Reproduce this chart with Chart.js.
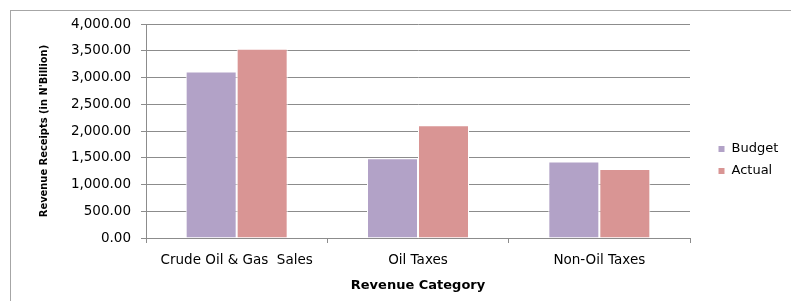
<!DOCTYPE html>
<html>
<head>
<meta charset="utf-8">
<script src="https://cdn.jsdelivr.net/npm/chart.js@4/dist/chart.umd.min.js"></script>
<style>
html,body{margin:0;padding:0;background:#fff;}
canvas{display:block;}
</style>
</head>
<body>
<canvas id="c" width="791" height="301"></canvas>
<script>
const categories = ["Crude Oil & Gas  Sales", "Oil Taxes", "Non-Oil Taxes"];
const budgetValues = [3114, 1490, 1432];
const actualValues = [3538, 2108, 1290];
const seriesNames = ["Budget", "Actual"];
const yTitle = "Revenue Receipts (in N'Billion)";
const xTitle = "Revenue Category";

const frame = {
  id: 'frame',
  beforeDraw(chart) {
    const ctx = chart.ctx;
    ctx.save();
    ctx.fillStyle = '#ffffff';
    ctx.fillRect(0, 0, chart.width, chart.height);
    ctx.strokeStyle = '#a6a6a6';
    ctx.lineWidth = 1;
    ctx.strokeRect(10.5, 10.5, chart.width + 20, chart.height + 20);
    ctx.restore();
  }
};

const legendTweak = {
  id: 'legendTweak',
  beforeInit(chart) {
    const lg = chart.legend;
    if (lg && !lg._patched) {
      const orig = lg.fit.bind(lg);
      lg.fit = function() { orig(); this.width = 101; this.minSize && (this.minSize.width = 101); };
      lg._patched = true;
    }
  },
  afterLayout(chart) {
    const lg = chart.legend;
    if (lg) { lg.left += 19; lg.right += 19; }
  }
};

new Chart(document.getElementById('c'), {
  type: 'bar',
  data: {
    labels: categories,
    datasets: [
      { label: seriesNames[0], data: budgetValues, backgroundColor: '#b2a2c7', borderColor: '#ffffff', borderWidth: 1 },
      { label: seriesNames[1], data: actualValues, backgroundColor: '#d99594', borderColor: '#ffffff', borderWidth: 1 }
    ]
  },
  options: {
    responsive: false,
    animation: false,
    devicePixelRatio: 1,
    layout: { padding: { left: 30, right: 0, top: 24, bottom: 5 } },
    datasets: { bar: { categoryPercentage: 0.5625, barPercentage: 1.0 } },
    plugins: {
      legend: {
        position: 'right',
        align: 'center',
        labels: {
          boxWidth: 7, boxHeight: 7, padding: 9,
          color: '#000000',
          font: { family: 'DejaVu Sans', size: 13 }
        }
      },
      tooltip: { enabled: false },
      title: { display: false }
    },
    scales: {
      x: {
        offset: true,
        grid: { display: true, drawOnChartArea: false, drawTicks: true, tickLength: 5, offset: true, color: '#8c8c8c' },
        border: { display: true, color: '#8c8c8c', width: 1 },
        ticks: { color: '#000000', padding: 9, maxRotation: 0, autoSkip: false, font: { family: 'DejaVu Sans', size: 13.5 } },
        title: { display: true, text: xTitle, color: '#000000', padding: { top: 4, bottom: 3 }, font: { family: 'DejaVu Sans', size: 13, weight: 'bold' } },
        afterFit(s) { s.height = 58; }
      },
      y: {
        min: 0, max: 4000,
        grid: { color: '#8c8c8c', tickLength: 5, drawTicks: true },
        border: { display: true, color: '#8c8c8c', width: 1 },
        ticks: {
          stepSize: 500, color: '#000000', padding: 10,
          font: { family: 'DejaVu Sans', size: 13.5 },
          callback: v => Number(v).toLocaleString('en-US', { minimumFractionDigits: 2, maximumFractionDigits: 2 })
        },
        title: { display: true, text: yTitle, color: '#000000', padding: { top: 8, bottom: 4 }, font: { family: "'DejaVu Sans Condensed', 'Liberation Sans', sans-serif", size: 11, weight: 'bold' } },
        afterFit(s) { s.width = 116; }
      }
    }
  },
  plugins: [frame, legendTweak]
});
</script>
</body>
</html>
